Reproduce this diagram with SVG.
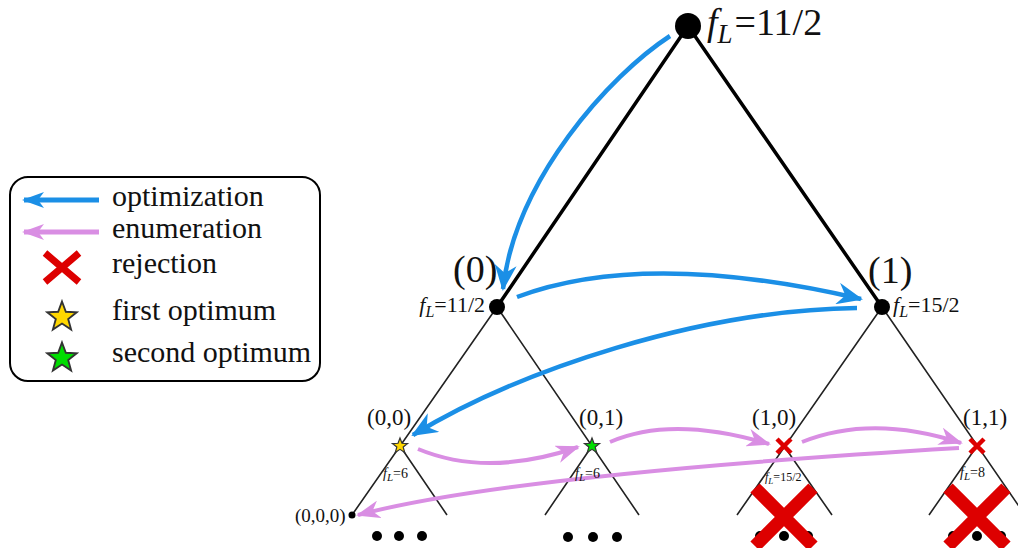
<svg xmlns="http://www.w3.org/2000/svg" width="1018" height="548" viewBox="0 0 1018 548" font-family="'Liberation Serif', 'Times New Roman', Times, 'DejaVu Serif', serif">
<style>
text{fill:#111}
.edge1{stroke:#000;stroke-width:3.5;fill:none}
.edge2{stroke:#222;stroke-width:1.6;fill:none}
.opt{stroke:#1b8fe6;stroke-width:4.5;fill:none}
.enu{stroke:#d98ee3;stroke-width:4;fill:none}
.rej{stroke:#dd0000;fill:none}
.it{font-style:italic}
</style>
<defs>
<marker id="hb" markerUnits="userSpaceOnUse" viewBox="0 0 26 22" refX="24" refY="11" markerWidth="26" markerHeight="22" orient="auto">
<path d="M0,0 L26,11 L0,22 L8,11 Z" fill="#1b8fe6"/>
</marker>
<marker id="hp" markerUnits="userSpaceOnUse" viewBox="0 0 24 18" refX="22" refY="9" markerWidth="24" markerHeight="18" orient="auto">
<path d="M0,0 L24,9 L0,18 L7,9 Z" fill="#d98ee3"/>
</marker>
<marker id="hbl" markerUnits="userSpaceOnUse" viewBox="0 0 22 16" refX="20" refY="8" markerWidth="22" markerHeight="16" orient="auto">
<path d="M0,0 L22,8 L0,16 L6,8 Z" fill="#1b8fe6"/>
</marker>
<marker id="hpl" markerUnits="userSpaceOnUse" viewBox="0 0 22 16" refX="20" refY="8" markerWidth="22" markerHeight="16" orient="auto">
<path d="M0,0 L22,8 L0,16 L6,8 Z" fill="#d98ee3"/>
</marker>
<path id="star" d="M0,-10 L2.47,-3.4 L9.51,-3.09 L3.99,1.3 L5.88,8.09 L0,4.2 L-5.88,8.09 L-3.99,1.3 L-9.51,-3.09 L-2.47,-3.4 Z"/>
</defs>

<g id="connectors">
<path class="edge1" d="M688,26 L497,307 M688,26 L882,307"/>
<path class="edge2" d="M497,307 L352,515 M497,307 L639,515 M400,446 L447,515 M592,446 L545,515"/>
<path class="edge2" d="M882,307 L737,515 M882,307 L1025,515 M784,446 L832,515 M977,446 L929,515"/>
<path class="opt" marker-end="url(#hb)" d="M670,36 C610,75 515,180 503,289"/>
<path class="opt" marker-end="url(#hb)" d="M517,297 Q645,249 861,299"/>
<path class="opt" marker-end="url(#hb)" d="M857,308 C700,310 520,370 413,435"/>
<path class="enu" marker-end="url(#hp)" d="M418,449 Q488,478 578,447"/>
<path class="enu" marker-end="url(#hp)" d="M610,442 Q672,415 769,444"/>
<path class="enu" marker-end="url(#hp)" d="M802,442 Q872,414 961,443"/>
<path class="enu" marker-end="url(#hp)" d="M959,448 Q508,475 358,515"/>
</g>

<g id="root">
<circle cx="688" cy="26" r="13" fill="#000"/>
<text x="707" y="35" font-size="38"><tspan class="it">f</tspan><tspan class="it" font-size="27" dy="8">L</tspan><tspan dy="-8" dx="2">=11/2</tspan></text>
</g>

<g id="n0">
<circle cx="497" cy="307" r="8" fill="#000"/>
<text x="453" y="282" font-size="38">(0)</text>
<text x="485" y="312" font-size="22" text-anchor="end"><tspan class="it">f</tspan><tspan class="it" font-size="16" dy="5">L</tspan><tspan dy="-5">=11/2</tspan></text>
</g>

<g id="n1">
<circle cx="882" cy="307" r="8" fill="#000"/>
<text x="868" y="283" font-size="38">(1)</text>
<text x="893" y="312" font-size="22"><tspan class="it">f</tspan><tspan class="it" font-size="16" dy="5">L</tspan><tspan dy="-5">=15/2</tspan></text>
</g>

<g id="n00">
<use href="#star" transform="translate(400,446) scale(0.8)" fill="#ffd700" stroke="#333" stroke-width="1.5"/>
<text x="367" y="425" font-size="23">(0,0)</text>
<text x="383" y="478" font-size="14"><tspan class="it">f</tspan><tspan class="it" font-size="11" dy="3">L</tspan><tspan dy="-3">=6</tspan></text>
<circle cx="377" cy="536" r="5" fill="#000"/>
<circle cx="399" cy="536" r="5" fill="#000"/>
<circle cx="422" cy="536" r="5" fill="#000"/>
</g>

<g id="n000">
<circle cx="352" cy="515" r="3.5" fill="#000"/>
<text x="295" y="522" font-size="19">(0,0,0)</text>
</g>

<g id="n01">
<use href="#star" transform="translate(592,446) scale(0.8)" fill="#00dd00" stroke="#333" stroke-width="1.5"/>
<text x="579" y="425" font-size="23">(0,1)</text>
<text x="575" y="478" font-size="14"><tspan class="it">f</tspan><tspan class="it" font-size="11" dy="3">L</tspan><tspan dy="-3">=6</tspan></text>
<circle cx="568" cy="537" r="5" fill="#000"/>
<circle cx="593" cy="537" r="5" fill="#000"/>
<circle cx="617" cy="537" r="5" fill="#000"/>
</g>

<g id="n10">
<path class="rej" stroke-width="4.5" d="M777,439 L791,453 M791,439 L777,453"/>
<text x="752" y="425" font-size="23">(1,0)</text>
<text x="765" y="481" font-size="12"><tspan class="it">f</tspan><tspan class="it" font-size="9" dy="3">L</tspan><tspan dy="-3">=15/2</tspan></text>
<circle cx="760" cy="536" r="5" fill="#000"/>
<circle cx="808" cy="536" r="5" fill="#000"/>
<path class="rej" stroke-width="13" d="M755,488 L813,546 M813,488 L755,546"/>
<circle cx="784" cy="536" r="5" fill="#000"/>
</g>

<g id="n11">
<path class="rej" stroke-width="4.5" d="M970,439 L984,453 M984,439 L970,453"/>
<text x="963" y="425" font-size="23">(1,1)</text>
<text x="960" y="477" font-size="14"><tspan class="it">f</tspan><tspan class="it" font-size="11" dy="3">L</tspan><tspan dy="-3">=8</tspan></text>
<circle cx="953" cy="536" r="5" fill="#000"/>
<circle cx="1001" cy="536" r="5" fill="#000"/>
<path class="rej" stroke-width="13" d="M948,488 L1006,546 M1006,488 L948,546"/>
<circle cx="977" cy="536" r="5" fill="#000"/>
</g>

<g id="legend">
<rect x="10" y="177" width="310" height="204" rx="18" ry="18" fill="#fff" stroke="#000" stroke-width="2"/>
<path stroke="#1b8fe6" stroke-width="5" fill="none" marker-end="url(#hbl)" d="M99,200 L24,200"/>
<text x="112" y="206" font-size="30">optimization</text>
<path stroke="#d98ee3" stroke-width="5" fill="none" marker-end="url(#hpl)" d="M99,232 L24,232"/>
<text x="112" y="238" font-size="30">enumeration</text>
<path class="rej" stroke-width="7" d="M45,253 L79,282 M79,253 L45,282"/>
<text x="112" y="273" font-size="30">rejection</text>
<use href="#star" transform="translate(62,317) scale(1.55)" fill="#ffd700" stroke="#333" stroke-width="1.2"/>
<text x="112" y="320" font-size="30">first optimum</text>
<use href="#star" transform="translate(62,358) scale(1.55)" fill="#00dd00" stroke="#333" stroke-width="1.2"/>
<text x="112" y="362" font-size="30">second optimum</text>
</g>
</svg>
